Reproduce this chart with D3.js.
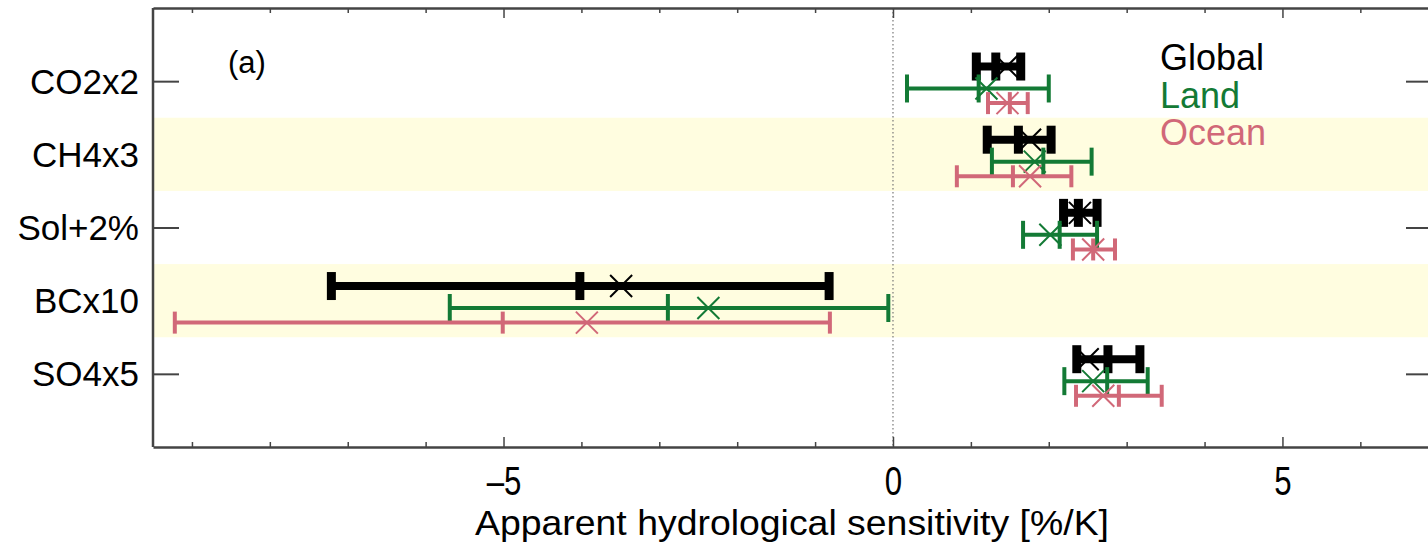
<!DOCTYPE html>
<html>
<head>
<meta charset="utf-8">
<script src="https://cdn.jsdelivr.net/npm/d3@7"></script>
<style>
  html, body { margin: 0; padding: 0; background: #fff; }
  svg { display: block; }
  text { font-family: "Liberation Sans", Arial, Helvetica, sans-serif; }
</style>
</head>
<body>
<div id="chart"></div>
<script>
// experiments, top to bottom
const categories = ["CO2x2", "CH4x3", "Sol+2%", "BCx10", "SO4x5"];
const shaded = ["CH4x3", "BCx10"];

// Global (all points)
const globalLo   = [1.07, 1.21, 2.19, -7.21, 2.36];
const globalHi   = [1.64, 2.03, 2.62, -0.82, 3.17];
const globalMid  = [1.32, 1.61, 2.38, -4.02, 2.76];
const globalMark = [1.46, 1.76, 2.40, -3.49, 2.50];

// Land
const landLo   = [0.18, 1.27, 1.67, -5.69, 2.20];
const landHi   = [2.00, 2.55, 2.62, -0.06, 3.27];
const landMid  = [1.10, 1.93, 2.14, -2.89, 2.75];
const landMark = [1.20, 1.82, 2.02, -2.37, 2.57];

// Ocean
const oceanLo   = [1.22, 0.82, 2.31, -9.22, 2.35];
const oceanHi   = [1.73, 2.29, 2.85, -0.81, 3.45];
const oceanMid  = [1.50, 1.54, 2.57, -5.01, 2.90];
const oceanMark = [1.47, 1.76, 2.57, -3.93, 2.70];

const xMajorTicks = [-5, 0, 5];
const xMinorTicks = [-9, -8, -7, -6, -4, -3, -2, -1, 1, 2, 3, 4, 6];
const legendLabels = ["Global", "Land", "Ocean"];
const panelLabel = "(a)";
const xTitle = "Apparent hydrological sensitivity [%/K]";

const W = 1428, H = 545;
const svg = d3.select("#chart").append("svg")
  .attr("width", W).attr("height", H);

const x = d3.scaleLinear().domain([-9.5, 6.92]).range([153, 1432]);
const y = d3.scaleLinear().domain([-1, 5]).range([8, 447]);

const axisColor = "#444";

// series setup: row offset, colour and line weights
const series = [
  { name: "Global", lo: globalLo, hi: globalHi, mid: globalMid, mark: globalMark,
    color: "#000000", off: -0.2, lw: 8, capW: 9, capH: 28 },
  { name: "Land", lo: landLo, hi: landHi, mid: landMid, mark: landMark,
    color: "#137a35", off: 0.1, lw: 4, capW: 4, capH: 28 },
  { name: "Ocean", lo: oceanLo, hi: oceanHi, mid: oceanMid, mark: oceanMark,
    color: "#d16878", off: 0.3, lw: 4, capW: 4, capH: 22 }
];

// y ticks (left and right) drawn first so the shaded rows hide some
const yIdx = categories.map((d, i) => i);
svg.append("g")
  .attr("transform", `translate(${x(-9.5)},0)`)
  .call(d3.axisLeft(y).tickValues(yIdx).tickSizeInner(-26).tickSizeOuter(0).tickFormat(""))
  .call(g => g.select(".domain").remove())
  .selectAll("line").attr("stroke", axisColor).attr("stroke-width", 2);
svg.append("g")
  .attr("transform", `translate(${x(6.92)},0)`)
  .call(d3.axisRight(y).tickValues(yIdx).tickSizeInner(-26).tickSizeOuter(0).tickFormat(""))
  .call(g => g.select(".domain").remove())
  .selectAll("line").attr("stroke", axisColor).attr("stroke-width", 2);

// shaded bands
svg.selectAll(".band")
  .data(categories.filter(c => shaded.includes(c)))
  .enter().append("rect")
  .attr("class", "band")
  .attr("x", x(-9.5) + 1)
  .attr("width", x(6.92) - x(-9.5))
  .attr("y", d => y(categories.indexOf(d) - 0.5))
  .attr("height", d => y(categories.indexOf(d) + 0.5) - y(categories.indexOf(d) - 0.5))
  .attr("fill", "#fffde0");

// zero line
svg.append("line")
  .attr("x1", x(0)).attr("x2", x(0))
  .attr("y1", y(-1)).attr("y2", y(5))
  .attr("stroke", "#777").attr("stroke-width", 1.2)
  .attr("stroke-dasharray", "1.5,2.5");

// x axes, ticks inside
function xAxes(axisFn, ty) {
  svg.append("g").attr("transform", `translate(0,${ty})`)
    .call(axisFn(x).tickValues(xMinorTicks).tickSizeInner(-5).tickSizeOuter(0).tickFormat(""))
    .call(g => g.select(".domain").remove())
    .selectAll("line").attr("stroke", axisColor).attr("stroke-width", 1.5);
  const g = svg.append("g").attr("transform", `translate(0,${ty})`)
    .call(axisFn(x).tickValues(xMajorTicks).tickSizeInner(-10).tickSizeOuter(0)
      .tickPadding(20).tickFormat(d => d < 0 ? "\u2013" + Math.abs(d) : d));
  g.select(".domain").attr("stroke", axisColor).attr("stroke-width", 2.5);
  g.selectAll("line").attr("stroke", axisColor).attr("stroke-width", 1.5);
  return g;
}
xAxes(d3.axisTop, y(-1)).selectAll("text").remove();
xAxes(d3.axisBottom, y(5)).selectAll("text")
  .attr("font-size", 40).attr("fill", "#000")
  .attr("font-family", "'Liberation Sans', Arial, sans-serif")
  .attr("transform", "scale(0.78,1)");

// left axis line and category labels
svg.append("line")
  .attr("x1", x(-9.5)).attr("x2", x(-9.5))
  .attr("y1", y(-1)).attr("y2", y(5))
  .attr("stroke", axisColor).attr("stroke-width", 2.5);

svg.selectAll(".cat")
  .data(categories)
  .enter().append("text")
  .attr("class", "cat")
  .attr("x", 139)
  .attr("y", (d, i) => y(i))
  .attr("dy", "0.36em")
  .attr("text-anchor", "end")
  .attr("font-size", 35)
  .text(d => d);

// error bars
series.forEach(s => {
  const g = svg.append("g").attr("class", "series-" + s.name);
  const yy = i => y(i + s.off);
  // horizontal range
  g.selectAll(".rng").data(categories).enter().append("line")
    .attr("x1", (d, i) => x(s.lo[i])).attr("x2", (d, i) => x(s.hi[i]))
    .attr("y1", (d, i) => yy(i)).attr("y2", (d, i) => yy(i))
    .attr("stroke", s.color).attr("stroke-width", s.lw);
  // caps and middle tick
  ["lo", "mid", "hi"].forEach(k => {
    g.selectAll(".cap-" + k).data(categories).enter().append("line")
      .attr("x1", (d, i) => x(s[k][i])).attr("x2", (d, i) => x(s[k][i]))
      .attr("y1", (d, i) => yy(i) - s.capH / 2).attr("y2", (d, i) => yy(i) + s.capH / 2)
      .attr("stroke", s.color).attr("stroke-width", s.capW);
  });
  // X marker
  const m = 11;
  g.selectAll(".mk").data(categories).enter().append("path")
    .attr("d", (d, i) => {
      const cx = x(s.mark[i]), cy = yy(i);
      return `M${cx - m},${cy - m}L${cx + m},${cy + m}M${cx - m},${cy + m}L${cx + m},${cy - m}`;
    })
    .attr("stroke", s.color).attr("stroke-width", 2).attr("fill", "none");
});

// legend
svg.selectAll(".leg")
  .data(series)
  .enter().append("text")
  .attr("x", 1160)
  .attr("y", (d, i) => 70 + i * 37.5)
  .attr("font-size", 36)
  .attr("fill", d => d.color)
  .text((d, i) => legendLabels[i]);

// panel label
svg.append("text")
  .attr("x", 228).attr("y", 73)
  .attr("font-size", 31)
  .text(panelLabel);

// x title
svg.append("text")
  .attr("x", x(0) - 101).attr("y", 535)
  .attr("text-anchor", "middle")
  .attr("font-size", 35)
  .attr("textLength", 634).attr("lengthAdjust", "spacingAndGlyphs")
  .text(xTitle);
</script>
</body>
</html>
